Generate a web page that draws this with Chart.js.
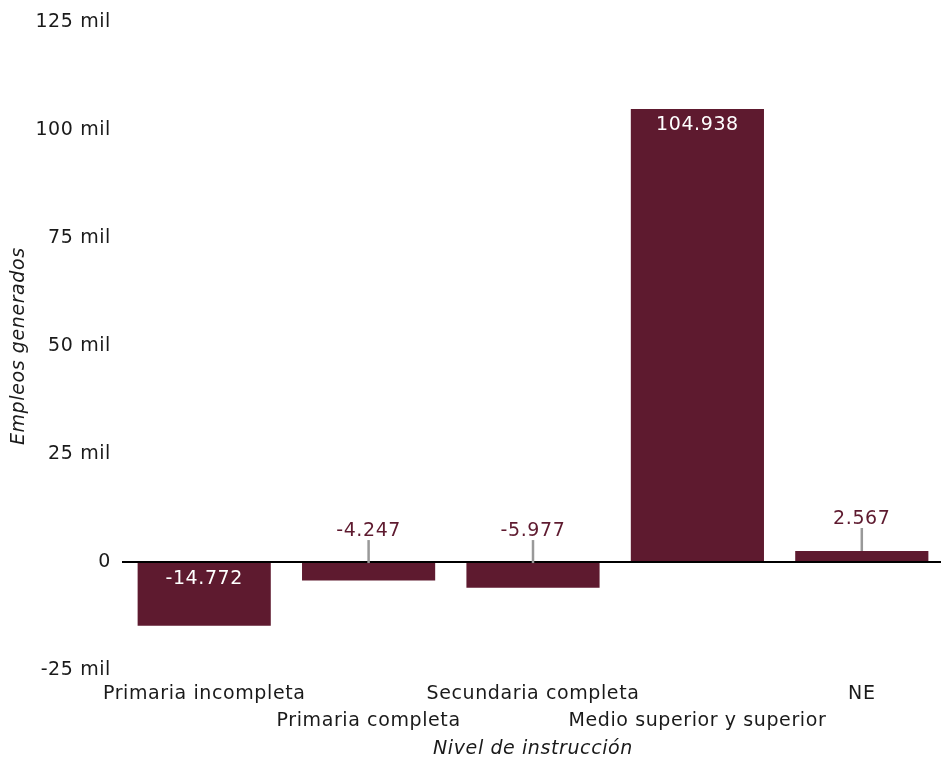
<!DOCTYPE html>
<html>
<head>
<meta charset="utf-8">
<script src="https://cdn.jsdelivr.net/npm/chart.js@4"></script>
<style>
  html, body { margin: 0; background: #fff; overflow: hidden; }
</style>
</head>
<body>
<canvas id="myChart" width="944" height="759"></canvas>
<script>
const categorias = ['Primaria incompleta', 'Primaria completa', 'Secundaria completa', 'Medio superior y superior', 'NE'];
const empleos = [-14772, -4247, -5977, 104938, 2567];
const yTicks = [-25000, 0, 25000, 50000, 75000, 100000, 125000];

const barColor = '#5e1a2f';
const fuente = 'DejaVu Sans';
const espaciado = '0.6px';

// etiquetas escalonadas: las impares en la segunda linea
const etiquetas = categorias.map((c, i) => i % 2 == 0 ? [c] : ['', c]);

function formato(v) {
    const s = Math.abs(v).toString().replace(/\B(?=(\d{3})+(?!\d))/g, '.');
    return (v < 0 ? '-' : '') + s;
}

// letra un poco mas ancha
const espaciar = {
    id: 'espaciar',
    beforeInit(chart) { chart.ctx.letterSpacing = espaciado; },
    beforeLayout(chart) { chart.ctx.letterSpacing = espaciado; },
    beforeDraw(chart) { chart.ctx.letterSpacing = espaciado; }
};

const etiquetasBarras = {
    id: 'etiquetasBarras',
    afterDatasetsDraw(chart) {
        const ctx = chart.ctx;
        const meta = chart.getDatasetMeta(0);
        ctx.save();
        ctx.font = '19px "' + fuente + '"';
        ctx.letterSpacing = espaciado;
        ctx.textAlign = 'center';
        ctx.textBaseline = 'middle';
        meta.data.forEach((bar, i) => {
            const v = empleos[i];
            const alto = Math.abs(bar.base - bar.y);
            const texto = formato(v);
            if (alto > 40) {
                ctx.fillStyle = '#ffffff';
                const y = Math.min(bar.y, bar.base) + 16;
                ctx.fillText(texto, bar.x, y);
            } else {
                const inicio = Math.min(bar.y, bar.base);
                ctx.strokeStyle = '#999999';
                ctx.lineWidth = 2.5;
                ctx.beginPath();
                ctx.moveTo(bar.x, inicio);
                ctx.lineTo(bar.x, inicio - 23);
                ctx.stroke();
                ctx.fillStyle = barColor;
                ctx.fillText(texto, bar.x, inicio - 32);
            }
        });
        ctx.restore();
    }
};

const ctx = document.getElementById('myChart');

new Chart(ctx, {
    type: 'bar',
    data: {
        labels: etiquetas,
        datasets: [{
            label: 'Empleos generados',
            data: empleos,
            backgroundColor: barColor,
            barPercentage: 0.81,
            categoryPercentage: 1,
        }]
    },
    plugins: [espaciar, etiquetasBarras],
    options: {
        responsive: false,
        animation: false,
        devicePixelRatio: 1,
        layout: { padding: { top: 19, right: 0, bottom: 0, left: 0 } },
        plugins: {
            legend: { display: false },
            tooltip: { enabled: false }
        },
        scales: {
            x: {
                grid: { display: false },
                border: { display: false },
                ticks: {
                    color: '#1a1a1a',
                    padding: 3,
                    maxRotation: 0,
                    autoSkip: false,
                    font: { family: fuente, size: 19, lineHeight: 1.42 }
                },
                title: {
                    display: true,
                    text: 'Nivel de instrucción',
                    color: '#1a1a1a',
                    padding: { top: 0, bottom: 0 },
                    font: { family: fuente, size: 19, style: 'italic', lineHeight: 1 }
                },
                afterFit: s => { s.height = 89; }
            },
            y: {
                min: -25000,
                max: 125000,
                afterBuildTicks: s => { s.ticks = yTicks.map(v => ({ value: v })); },
                grid: {
                    drawTicks: false,
                    color: c => c.tick && c.tick.value === 0 ? '#000' : 'rgba(0,0,0,0)',
                    lineWidth: 2
                },
                border: { display: false },
                ticks: {
                    color: '#1a1a1a',
                    padding: 11,
                    font: { family: fuente, size: 19 },
                    callback: v => v === 0 ? '0' : (v / 1000) + ' mil'
                },
                title: {
                    display: true,
                    text: 'Empleos generados',
                    color: '#1a1a1a',
                    padding: { top: 8, bottom: 0 },
                    font: { family: fuente, size: 19, style: 'italic' }
                },
                afterFit: s => { s.width = 122; }
            }
        }
    }
});
</script>
</body>
</html>
